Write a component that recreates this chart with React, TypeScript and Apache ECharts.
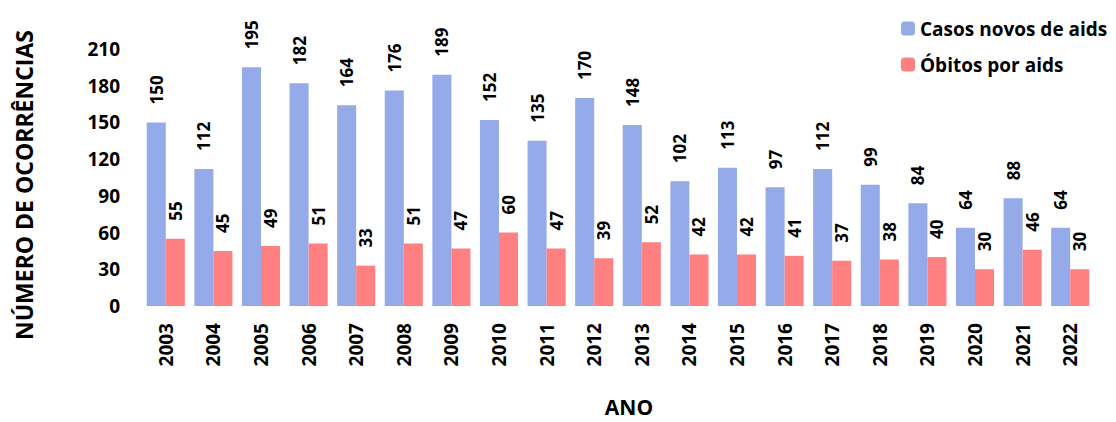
import React, { useEffect, useRef } from "react";
import * as echarts from "echarts";

const years = ["2003","2004","2005","2006","2007","2008","2009","2010","2011","2012","2013","2014","2015","2016","2017","2018","2019","2020","2021","2022"];
const casosNovos = [150,112,195,182,164,176,189,152,135,170,148,102,113,97,112,99,84,64,88,64];
const obitos = [55,45,49,51,33,51,47,60,47,39,52,42,42,41,37,38,40,30,46,30];
const yAxisTitle = "NÚMERO DE OCORRÊNCIAS";
const xAxisTitle = "ANO";

const FONT = "'Open Sans', 'Noto Sans', sans-serif";

export default function App() {
  const ref = useRef<HTMLDivElement>(null);
  useEffect(() => {
    document.body.style.margin = "0";
    if (!ref.current) return;
    const chart = echarts.init(ref.current, null, { renderer: "svg" });
    const labelCfg = {
      show: true,
      position: "top",
      rotate: 90,
      align: "left",
      verticalAlign: "middle",
      distance: 18,
      fontFamily: FONT,
      fontWeight: "bold",
      fontSize: 17,
      color: "#000",
    };
    chart.setOption({
      animation: false,
      textStyle: { fontFamily: FONT },
      legend: {
        orient: "vertical",
        left: 896,
        top: 14,
        itemWidth: 14,
        itemHeight: 14,
        itemGap: 17,
        textStyle: { fontFamily: FONT, fontWeight: "bold", fontSize: 19, color: "#000" },
        data: ["Casos novos de aids", "Óbitos por aids"],
      },
      grid: { left: 142, right: 22, top: 49, bottom: 116 },
      graphic: [
        {
          type: "text",
          x: 24,
          y: 185,
          rotation: Math.PI / 2,
          style: {
            text: yAxisTitle,
            align: "center",
            verticalAlign: "middle",
            fontFamily: FONT,
            fontWeight: "bold",
            fontSize: 23,
            fill: "#000",
          },
        },
        {
          type: "text",
          x: 629,
          y: 407,
          style: {
            text: xAxisTitle,
            align: "center",
            verticalAlign: "middle",
            fontFamily: FONT,
            fontWeight: "bold",
            fontSize: 21,
            fill: "#000",
          },
        },
      ],
      xAxis: {
        type: "category",
        data: years,
        axisLine: { show: false },
        axisTick: { show: false },
        axisLabel: { rotate: 90, fontFamily: FONT, fontWeight: "bold", fontSize: 19, color: "#000", margin: 17 },
      },
      yAxis: {
        type: "value",
        min: 0,
        max: 210,
        interval: 30,
        splitLine: { show: false },
        axisLine: { show: false },
        axisTick: { show: false },
        axisLabel: { fontFamily: FONT, fontWeight: "bold", fontSize: 19, color: "#000", margin: 22 },
      },
      series: [
        {
          name: "Casos novos de aids",
          type: "bar",
          data: casosNovos,
          itemStyle: { color: "#95AAE8" },
          barGap: "0%",
          barCategoryGap: "20%",
          label: labelCfg,
        },
        {
          name: "Óbitos por aids",
          type: "bar",
          data: obitos,
          itemStyle: { color: "#FF8080" },
          label: labelCfg,
        },
      ],
    });
    return () => chart.dispose();
  }, []);
  return <div ref={ref} style={{ width: 1116, height: 422 }} />;
}
